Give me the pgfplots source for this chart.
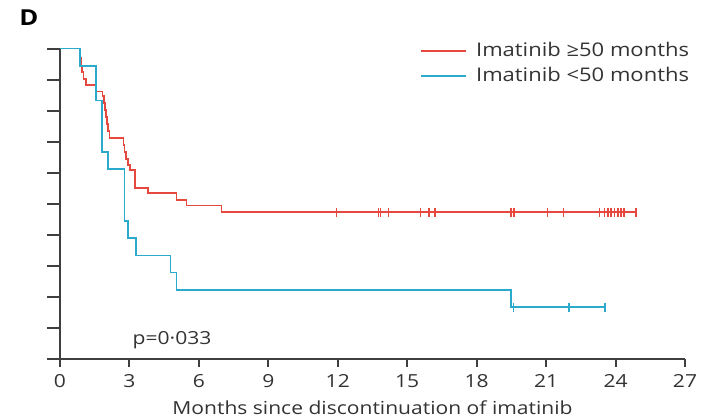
\documentclass[border=0pt]{standalone}
\usepackage{fontspec}
\setmainfont{Open Sans}[FakeStretch=1.17]
\usepackage{pgfplots}
\pgfplotsset{compat=1.18}
\definecolor{kmred}{HTML}{E5483E}
\definecolor{kmblue}{HTML}{2BAACB}
\definecolor{axgray}{HTML}{3F3F3F}
\definecolor{txtgray}{HTML}{333333}
\begin{document}
\begin{tikzpicture}[x=1pt,y=1pt]
\begin{axis}[
  at={(0,0)}, anchor=south west, scale only axis,
  width=312.5pt, height=155.25pt,
  xmin=0, xmax=27, ymin=0, ymax=1,
  axis x line*=bottom, axis y line*=left,
  axis line style={-, axgray, line width=1pt},
  xtick={0,3,6,9,12,15,18,21,24,27},
  ytick={0,0.1,0.2,0.3,0.4,0.5,0.6,0.7,0.8,0.9,1.0},
  yticklabels={},
  tick align=outside,
  xtick style={axgray, line width=1pt, /pgfplots/major tick length=4pt},
  ytick style={axgray, line width=1pt, /pgfplots/major tick length=6.5pt},
  /pgf/number format/assume math mode=true,
  ticklabel style={font=\fontsize{9}{11}\selectfont, text=txtgray},
  xlabel={Months since discontinuation of imatinib},
  xlabel style={at={(axis description cs:0.5,0)}, anchor=base, yshift=-27.5pt, font=\fontsize{9}{11}\selectfont, text=txtgray},
  legend style={draw=none, fill=none, at={(0.566,1.046)}, anchor=north west,
    font=\fontsize{9.4}{11}\selectfont, text=txtgray, row sep=-0.5pt},
  legend cell align=left,
  legend image code/.code={\draw[#1, line width=1pt] (0pt,0pt) -- (22.5pt,0pt);},
  clip=false,
]
\addplot[const plot, kmred, line width=0.8pt] coordinates {
(0,1) (0.864,0.969) (0.907,0.944) (0.950,0.924) (1.015,0.902) (1.123,0.882)
(1.577,0.862) (1.836,0.847) (1.901,0.824) (1.944,0.802) (1.987,0.779)
(2.030,0.757) (2.073,0.734) (2.138,0.712) (2.743,0.689) (2.786,0.667)
(2.851,0.644) (2.937,0.625) (3.024,0.609) (3.24,0.551) (3.814,0.534)
(5.04,0.512) (5.473,0.494) (6.985,0.473) (24.88,0.473)};
\addlegendentry{\hspace{2.5pt}Imatinib ≥50 months}
\addplot[const plot, kmblue, line width=0.8pt] coordinates {
(0,1) (0.864,0.944) (1.555,0.833) (1.827,0.667) (2.073,0.611)
(2.778,0.444) (2.95,0.389) (3.283,0.333) (4.782,0.278) (5.041,0.222)
(19.47,0.167) (23.54,0.167)};
\addlegendentry{\hspace{2.5pt}Imatinib <50 months}
\addplot[forget plot, only marks, mark=|, mark size=2.2pt, kmred, mark options={line width=0.7pt}] coordinates {
(11.95,0.473) (13.75,0.473) (13.85,0.473) (14.18,0.473) (15.58,0.473)
(15.94,0.473) (16.2,0.473) (19.48,0.473) (19.62,0.473) (21.07,0.473)
(21.76,0.473) (23.3,0.473) (23.52,0.473) (23.67,0.473) (23.81,0.473)
(23.95,0.473) (24.1,0.473) (24.24,0.473) (24.36,0.473) (24.88,0.473)};
\addplot[forget plot, only marks, mark=|, mark size=2.2pt, kmblue, mark options={line width=0.7pt}] coordinates {
(19.6,0.167) (21.99,0.167) (23.54,0.167)};
\node[font=\fontsize{9}{11}\selectfont, text=txtgray] at (axis cs:4.84,0.062) {p=0·033};
\end{axis}
\node[font=\bfseries\fontsize{11}{13}\selectfont, text=black] at (-15.5,170.5) {D};
\pgfresetboundingbox
\path (-30,-29.5) rectangle (325,179.5);
\end{tikzpicture}
\end{document}
